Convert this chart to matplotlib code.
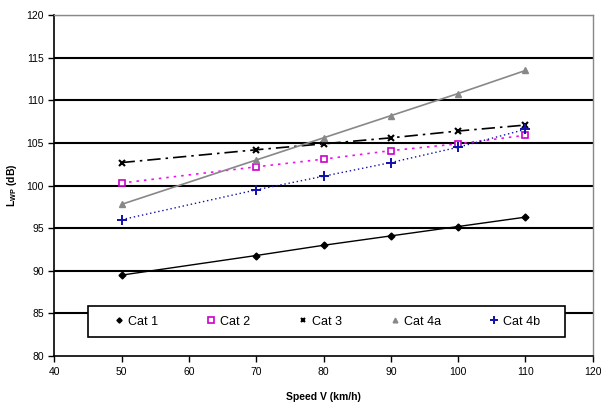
import matplotlib
matplotlib.use("Agg")
import matplotlib.pyplot as plt
from matplotlib.patches import Rectangle

plt.rcParams['font.family'] = ['Liberation Sans', 'DejaVu Sans']

speed = [50, 70, 80, 90, 100, 110]
cat1 = [89.5, 91.8, 93.0, 94.1, 95.2, 96.3]
cat2 = [100.3, 102.2, 103.1, 104.1, 104.9, 105.9]
cat3 = [102.7, 104.2, 104.9, 105.6, 106.4, 107.1]
cat4a = [97.8, 103.0, 105.6, 108.2, 110.8, 113.5]
cat4b = [96.0, 99.5, 101.1, 102.7, 104.5, 106.6]
labels = ['Cat 1', 'Cat 2', 'Cat 3', 'Cat 4a', 'Cat 4b']

fig = plt.figure(figsize=(6.03, 4.07), dpi=100)
ax = fig.add_axes([0.090, 0.125, 0.893, 0.838])

ax.set_xlim(40, 120)
ax.set_ylim(80, 120)
ax.set_xticks(range(40, 121, 10))
ax.set_yticks(range(80, 121, 5))
for y in range(85, 121, 5):
    ax.axhline(y, color='black', lw=1.5, zorder=1)

ax.plot(speed, cat1, color='black', lw=1.0, marker='D', ms=3.5, label=labels[0], zorder=3)
ax.plot(speed, cat2, color='#ee11ee', lw=1.2, ls=(0, (1.5, 3)), marker='s', ms=5,
        mfc='white', mec='#cc00cc', mew=1.2, label=labels[1], zorder=3)
ax.plot(speed, cat3, color='black', lw=1.2, ls=(0, (8, 3, 1.5, 3)), marker='x', ms=4.5,
        mew=1.5, label=labels[2], zorder=3)
ax.plot(speed, cat4a, color='#888888', lw=1.2, marker='^', ms=4.5, label=labels[3], zorder=3)
ax.plot(speed, cat4b, color='#1010aa', lw=1.0, ls=(0, (1, 2)), marker='+', ms=7,
        mew=1.4, label=labels[4], zorder=3)

for s in ['left', 'bottom']:
    ax.spines[s].set_color('black')
    ax.spines[s].set_linewidth(1.2)
for s in ['top', 'right']:
    ax.spines[s].set_color('#888888')
    ax.spines[s].set_linewidth(1.0)

ax.tick_params(direction='out', length=4, width=1, labelsize=7.5, colors='black')
ax.set_xlabel('Speed V (km/h)', fontsize=7.5, fontweight='bold', labelpad=11)
ax.set_ylabel('L$_{\\mathregular{WP}}$ (dB)', fontsize=7.5, fontweight='bold', labelpad=5)

# legend box
box = Rectangle((0.146, 0.172), 0.791, 0.076, transform=fig.transFigure,
                facecolor='white', edgecolor='black', lw=1.2, zorder=5)
fig.add_artist(box)

leg = fig.legend(loc='center', bbox_to_anchor=(0.543, 0.210),
                 ncol=5, handlelength=0.6, handletextpad=0.4, columnspacing=3.95,
                 fontsize=9, frameon=False, markerscale=0.75,
                 borderaxespad=0, borderpad=0.3)
leg.set_zorder(6)
for h in leg.legend_handles:
    h.set_linestyle('none')

fig.savefig('out.png', dpi=100, facecolor='white')
